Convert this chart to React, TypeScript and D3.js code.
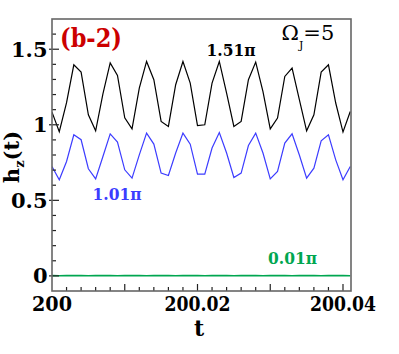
import * as d3 from "d3";
import React from "react";

// time samples, every 0.001 from 200.000 to 200.041
const times = d3.range(42).map((i) => 200 + i * 0.001);

// h_z(t) for 1.51 pi (black)
const black = [
  1.084, 0.954, 1.146, 1.397, 1.349, 1.066, 0.96, 1.205, 1.409, 1.326,
  1.046, 0.973, 1.243, 1.419, 1.298, 1.022, 0.989, 1.265, 1.419, 1.276,
  0.995, 1.0, 1.276, 1.419, 1.21, 0.989, 1.022, 1.298, 1.415, 1.22,
  0.973, 1.044, 1.32, 1.375, 1.166, 0.96, 1.066, 1.349, 1.397, 1.144,
  0.952, 1.088,
];

// h_z(t) for 1.01 pi (blue)
const blue = [
  0.724, 0.636, 0.757, 0.934, 0.901, 0.709, 0.642, 0.79, 0.94, 0.885,
  0.702, 0.647, 0.801, 0.945, 0.872, 0.68, 0.664, 0.813, 0.945, 0.872,
  0.673, 0.673, 0.846, 0.949, 0.813, 0.651, 0.68, 0.863, 0.945, 0.813,
  0.642, 0.691, 0.879, 0.94, 0.8, 0.647, 0.713, 0.894, 0.934, 0.768,
  0.636, 0.724,
];

// h_z(t) for 0.01 pi (green), flat near zero
const green = [
  0.002, 0.001, 0.002, 0.003, 0.002, 0.001, 0.002, 0.003, 0.002, 0.001,
  0.002, 0.003, 0.002, 0.001, 0.002, 0.003, 0.002, 0.001, 0.002, 0.003,
  0.002, 0.001, 0.002, 0.003, 0.002, 0.001, 0.002, 0.003, 0.002, 0.001,
  0.002, 0.003, 0.002, 0.001, 0.002, 0.003, 0.002, 0.001, 0.002, 0.003,
  0.002, 0.001,
];

const yTickLabels = [0, 0.5, 1, 1.5];
const xTickLabels = [200, 200.02, 200.04];

// only serif face that resolves in the sandbox
const serif = "DejaVu Serif";

export default function App() {
  const left = 52, right = 351, top = 19, bottom = 291;

  const x = d3.scaleLinear().domain([200, 200.0411]).range([left, right]);
  const y = d3.scaleLinear().domain([-0.1, 1.7]).range([bottom, top]);

  const line = (vals: number[]) =>
    d3.line<number>()
      .x((_, i) => x(times[i]))
      .y((v) => y(v))(vals) as string;

  const yMinor = d3.range(0, 17).map((i) => i * 0.1);
  const xMinor = d3.range(1, 21).map((i) => 200 + i * 0.002);

  return (
    <svg width={399} height={354} style={{ position: "absolute", left: 0, top: 0, background: "#fff" }}>
      <defs>
        <clipPath id="plot">
          <rect x={left} y={top} width={right - left} height={bottom - top} />
        </clipPath>
      </defs>

      <g clipPath="url(#plot)" fill="none" strokeWidth={1.2}>
        <path d={line(green)} stroke="#00a650" strokeWidth={1.6} />
        <path d={line(blue)} stroke="#3c3cff" />
        <path d={line(black)} stroke="#000" />
      </g>

      {/* y ticks */}
      {yMinor.map((v) => {
        const major = yTickLabels.some((t) => Math.abs(t - v) < 1e-6);
        return (
          <line key={"ym" + v} x1={major ? left - 3 : left} x2={left + (major ? 7 : 4)}
            y1={y(v)} y2={y(v)} stroke="#222" strokeWidth={1.2} />
        );
      })}
      {/* x ticks */}
      {xMinor.map((v, i) => {
        const major = (i + 1) % 5 === 0;
        return (
          <line key={"xm" + i} x1={x(v)} x2={x(v)} y1={bottom}
            y2={bottom - (major ? 7 : 4)} stroke="#222" strokeWidth={1.2} />
        );
      })}

      <rect x={left} y={top} width={right - left} height={bottom - top}
        fill="none" stroke="#666" strokeWidth={1.6} />

      <g fontFamily={serif} fontWeight="bold" fontSize={21} fill="#000">
        {yTickLabels.map((v) => (
          <text key={"yl" + v} x={47.5} y={y(v)} dy="0.36em" textAnchor="end">{v}</text>
        ))}
        {xTickLabels.map((v) => (
          <text key={"xl" + v} x={x(v)} y={311} textAnchor="middle" textLength={v === 200 ? 40 : 66} lengthAdjust="spacingAndGlyphs">{String(v)}</text>
        ))}
        <text x={199} y={336} textAnchor="middle" fontSize={22}>t</text>
        <text transform="translate(18.5,157) rotate(-90)" textAnchor="middle" fontSize={21}>
          h<tspan fontSize={13} dy={5}>z</tspan><tspan dy={-5}>(t)</tspan>
        </text>
      </g>

      <g fontFamily={serif} fontWeight="bold">
        <text x={60} y={47} fontSize={26} fill="#cc0000" textLength={62} lengthAdjust="spacingAndGlyphs">(b-2)</text>
        <text x={206.5} y={55.5} fontSize={17} fill="#000" textLength={49} lengthAdjust="spacingAndGlyphs">1.51π</text>
        <text x={92.5} y={199.5} fontSize={17} fill="#3c3cff" textLength={49} lengthAdjust="spacingAndGlyphs">1.01π</text>
        <text x={268} y={263.5} fontSize={17} fill="#00a650" textLength={49} lengthAdjust="spacingAndGlyphs">0.01π</text>
      </g>

      <text x={281.5} y={40} fontFamily={serif} fontSize={21} fill="#000">
        Ω<tspan fontSize={11} dy={9}>J</tspan><tspan dy={-9}>=5</tspan>
      </text>
    </svg>
  );
}
